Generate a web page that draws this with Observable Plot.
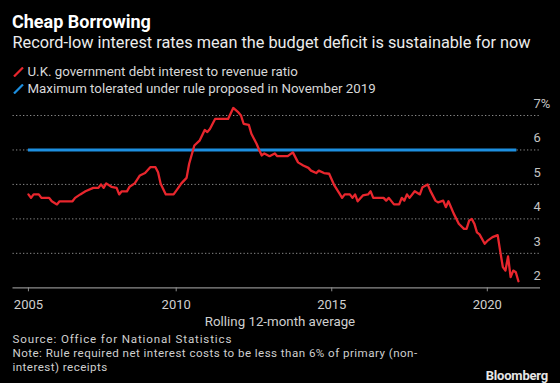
<!DOCTYPE html>
<html>
<head>
<meta charset="utf-8">
<script src="https://cdn.jsdelivr.net/npm/d3@7"></script>
<script src="https://cdn.jsdelivr.net/npm/@observablehq/plot@0.6"></script>
<style>
  html, body { margin: 0; padding: 0; background: #000; }
  #page { position: relative; width: 560px; height: 383px; background: #000; overflow: hidden; font-family: Roboto, "Open Sans", sans-serif; }
  .t { position: absolute; white-space: nowrap; line-height: 1; }
  #title { left: 12px; top: 12.5px; font-size: 18px; font-weight: 700; color: #fff; }
  #subtitle { left: 12.5px; top: 35px; font-size: 16.3px; color: #ececec; }
  .leg { left: 12.5px; font-size: 13.3px; color: #d8d8d8; }
  .leg svg { vertical-align: -1px; margin-right: 3px; }
  #xlabel { left: 0; width: 560px; text-align: center; top: 315px; font-size: 13.3px; color: #cfcfcf; }
  .foot { left: 12.5px; font-size: 11.6px; color: #cfcfcf; letter-spacing: 0.45px; }
  #logo { right: 12px; top: 369px; font-size: 13px; font-weight: 700; color: #e6e6e6; letter-spacing: -0.2px; }
  #chart { position: absolute; left: 0; top: 92px; }
</style>
</head>
<body>
<div id="page">
  <div class="t" id="title">Cheap Borrowing</div>
  <div class="t" id="subtitle">Record-low interest rates mean the budget deficit is sustainable for now</div>
  <div class="t leg" style="top:65px"><svg width="12" height="10"><line x1="1" y1="9.5" x2="10" y2="0.5" stroke="#e8262d" stroke-width="2.2"/></svg>U.K. government debt interest to revenue ratio</div>
  <div class="t leg" style="top:82px"><svg width="12" height="10"><line x1="1" y1="9.5" x2="10" y2="0.5" stroke="#1d8fe0" stroke-width="2.2"/></svg>Maximum tolerated under rule proposed in November 2019</div>
  <div id="chart"></div>
  <div class="t" id="xlabel">Rolling 12-month average</div>
  <div class="t foot" style="top:334px; letter-spacing: 0.85px">Source: Office for National Statistics</div>
  <div class="t foot" style="top:348px">Note: Rule required net interest costs to be less than 6% of primary (non-</div>
  <div class="t foot" style="top:362px">interest) receipts</div>
  <div class="t" id="logo">Bloomberg</div>
</div>
<script>
// U.K. government debt interest to revenue ratio (%), rolling 12-month average
const months = [
  "2005-04","2005-05","2005-06","2005-08","2005-09","2005-12","2006-01","2006-03","2006-04","2006-09",
  "2006-10","2006-12","2007-02","2007-05","2007-07","2007-08","2007-09","2007-10","2007-12","2008-02",
  "2008-03","2008-04","2008-06","2008-07","2008-09","2008-11","2009-01","2009-03","2009-05","2009-06",
  "2009-07","2009-09","2009-12","2010-02","2010-03","2010-05","2010-06","2010-08","2010-10","2010-12",
  "2011-01","2011-02","2011-04","2011-09","2011-11","2012-01","2012-02","2012-03","2012-05","2012-06",
  "2012-08","2012-09","2012-10","2012-11","2013-01","2013-03","2013-04","2013-08","2013-10","2013-12",
  "2014-02","2014-04","2014-05","2014-07","2014-08","2014-10","2014-12","2015-02","2015-04","2015-05",
  "2015-06","2015-08","2015-09","2015-10","2015-11","2016-01","2016-03","2016-04","2016-05","2016-09",
  "2016-10","2016-11","2017-01","2017-03","2017-04","2017-05","2017-06","2017-07","2017-09","2017-11",
  "2017-12","2018-02","2018-03","2018-05","2018-06","2018-08","2018-09","2018-10","2018-11","2018-12",
  "2019-02","2019-04","2019-05","2019-06","2019-07","2019-08","2019-09","2019-10","2019-12","2020-01",
  "2020-03","2020-05","2020-06","2020-07","2020-08","2020-09","2020-10","2020-11","2020-12","2021-01"
];
const ratio = [
  4.71,4.61,4.71,4.71,4.61,4.61,4.51,4.42,4.51,4.51,
  4.61,4.71,4.80,4.90,4.90,5.00,4.90,5.03,4.93,4.90,
  4.71,4.80,4.80,4.93,5.03,5.26,5.33,5.50,5.50,5.35,
  5.02,4.71,4.71,4.92,5.03,5.19,5.60,6.13,6.27,6.58,
  6.52,6.61,6.90,6.90,7.22,7.09,7.00,6.76,6.73,6.47,
  6.18,6.00,5.84,5.90,5.82,5.90,5.82,5.82,5.93,5.64,
  5.55,5.48,5.40,5.33,5.40,5.33,5.31,4.97,4.73,4.61,
  4.71,4.71,4.61,4.71,4.51,4.68,4.71,4.80,4.61,4.61,
  4.53,4.61,4.42,4.42,4.61,4.53,4.71,4.61,4.80,4.71,
  4.92,5.00,4.82,4.53,4.48,4.53,4.34,4.51,4.34,4.16,
  3.86,3.71,3.71,3.95,4.00,3.86,3.61,3.55,3.28,3.36,
  3.47,3.53,3.05,2.60,2.50,2.91,2.31,2.50,2.45,2.19
];
// Maximum tolerated under the proposed rule (%)
const ruleLimit = 6;
const ruleFrom = "2005-04";
const ruleTo = "2021-01";

const yTicks = [2, 3, 4, 5, 6, 7];
const xTickMonths = ["2005-04", "2010-01", "2015-01", "2020-01"];
const xTickLabels = ["2005", "2010", "2015", "2020"];

const toYear = s => { const [y, m] = s.split("-").map(Number); return y + (m - 1) / 12; };
const data = months.map((m, i) => ({t: toYear(m), v: ratio[i]}));
const xTicks = xTickMonths.map(toYear);

const RED = "#e8262d", BLUE = "#1d8fe0";

const chart = Plot.plot({
  width: 560,
  height: 240,
  marginTop: 23,
  marginBottom: 44.7,
  marginLeft: 12.5,
  marginRight: 20,
  style: {background: "transparent", color: "#bdbdbd", fontFamily: "Roboto, 'Open Sans', sans-serif", fontSize: "13px"},
  x: {type: "linear", domain: [2004.754, 2021.71]},
  y: {domain: [2, 7]},
  marks: [
    Plot.gridY(yTicks.filter(d => d > 2), {stroke: "#8a8a8a", strokeOpacity: 1, strokeDasharray: "1.3,2.2", strokeWidth: 1}),
    Plot.ruleY([2], {stroke: "#8c8c8c", strokeWidth: 1.2}),
    Plot.axisY(yTicks, {anchor: "right", tickSize: 0, tickPadding: 0, dx: -7, dy: -12, textAnchor: "start",
      tickFormat: d => d === 7 ? "7%" : String(d), fill: "#c4c4c4", fontSize: 13, label: null}),
    Plot.axisX(xTicks, {anchor: "bottom", tickSize: 4, tickPadding: 8, stroke: "#8c8c8c",
      tickFormat: (d, i) => xTickLabels[i], fill: "#d0d0d0", fontSize: 13, label: null}),
    Plot.ruleY([ruleLimit], {x1: toYear(ruleFrom), x2: toYear(ruleTo) - 0.05, stroke: BLUE, strokeWidth: 3}),
    Plot.line(data, {x: "t", y: "v", stroke: RED, strokeWidth: 2.3, strokeLinejoin: "round"})
  ]
});
document.getElementById("chart").appendChild(chart);
</script>
</body>
</html>
